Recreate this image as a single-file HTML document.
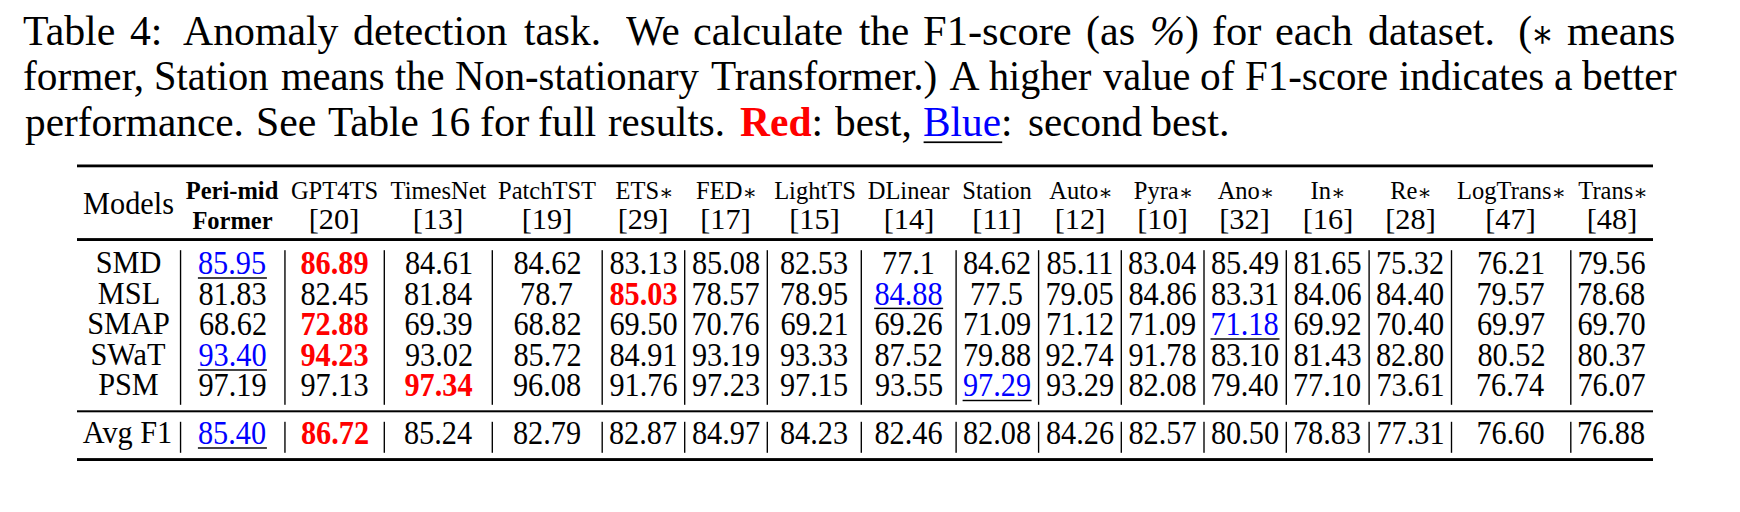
<!DOCTYPE html>
<html><head><meta charset="utf-8"><style>
html,body{margin:0;padding:0;background:#fff;}
body{width:1740px;height:512px;position:relative;overflow:hidden;}
.t{position:absolute;white-space:nowrap;line-height:1;font-family:'Liberation Serif', 'DejaVu Serif', serif;color:#000;}
.ast{font-family:'DejaVu Serif', serif;font-size:0.87em;position:relative;top:0.05em;}
.ast2{font-family:'DejaVu Serif', serif;font-size:0.95em;position:relative;top:0.045em;margin-left:-0.07em;margin-right:0.0em;display:inline-block;transform:scaleX(0.86);}
svg{position:absolute;left:0;top:0;}
</style></head><body>
<div class="t" id="c0_0" style="left:23.00px;top:11.46px;font-size:41.6px;transform:scale(1.0055,1);transform-origin:0 34.84px;">Table</div>
<div class="t" id="c0_1" style="left:130.00px;top:11.46px;font-size:41.6px;transform:scale(1.0034,1);transform-origin:0 34.84px;">4:</div>
<div class="t" id="c0_2" style="left:183.00px;top:11.46px;font-size:41.6px;transform:scale(1.0039,1);transform-origin:0 34.84px;">Anomaly</div>
<div class="t" id="c0_3" style="left:353.00px;top:11.46px;font-size:41.6px;transform:scale(1.0126,1);transform-origin:0 34.84px;">detection</div>
<div class="t" id="c0_4" style="left:524.00px;top:11.46px;font-size:41.6px;transform:scale(0.9947,1);transform-origin:0 34.84px;">task.</div>
<div class="t" id="c0_5" style="left:625.80px;top:11.46px;font-size:41.6px;transform:scale(0.9852,1);transform-origin:0 34.84px;">We</div>
<div class="t" id="c0_6" style="left:693.00px;top:11.46px;font-size:41.6px;transform:scale(1.0159,1);transform-origin:0 34.84px;">calculate</div>
<div class="t" id="c0_7" style="left:858.70px;top:11.46px;font-size:41.6px;transform:scale(0.986,1);transform-origin:0 34.84px;">the</div>
<div class="t" id="c0_8" style="left:923.00px;top:11.46px;font-size:41.6px;transform:scale(1.0217,1);transform-origin:0 34.84px;">F1-score</div>
<div class="t" id="c0_9" style="left:1086.40px;top:11.46px;font-size:41.6px;transform:scale(1.013,1);transform-origin:0 34.84px;">(as</div>
<div class="t" id="c0_10" style="left:1149.60px;top:11.46px;font-size:41.6px;transform:scale(1.0111,1);transform-origin:0 34.84px;"><i>%</i>)</div>
<div class="t" id="c0_11" style="left:1212.30px;top:11.46px;font-size:41.6px;transform:scale(1.0188,1);transform-origin:0 34.84px;">for</div>
<div class="t" id="c0_12" style="left:1275.30px;top:11.46px;font-size:41.6px;transform:scale(1.0187,1);transform-origin:0 34.84px;">each</div>
<div class="t" id="c0_13" style="left:1368.00px;top:11.46px;font-size:41.6px;transform:scale(1.0082,1);transform-origin:0 34.84px;">dataset.</div>
<div class="t" id="c0_14" style="left:1518.20px;top:11.46px;font-size:41.6px;">(<span class="ast2">∗</span></div>
<div class="t" id="c0_15" style="left:1567.20px;top:11.46px;font-size:41.6px;transform:scale(1.0192,1);transform-origin:0 34.84px;">means</div>
<div class="t" id="c1_0" style="left:23.00px;top:56.46px;font-size:41.6px;transform:scale(0.9932,1);transform-origin:0 34.84px;">former,</div>
<div class="t" id="c1_1" style="left:154.00px;top:56.46px;font-size:41.6px;transform:scale(0.9716,1);transform-origin:0 34.84px;">Station</div>
<div class="t" id="c1_2" style="left:280.50px;top:56.46px;font-size:41.6px;transform:scale(0.9752,1);transform-origin:0 34.84px;">means</div>
<div class="t" id="c1_3" style="left:395.30px;top:56.46px;font-size:41.6px;transform:scale(0.976,1);transform-origin:0 34.84px;">the</div>
<div class="t" id="c1_4" style="left:454.70px;top:56.46px;font-size:41.6px;transform:scale(0.9775,1);transform-origin:0 34.84px;">Non-stationary</div>
<div class="t" id="c1_5" style="left:710.50px;top:56.46px;font-size:41.6px;transform:scale(0.9912,1);transform-origin:0 34.84px;">Transformer.)</div>
<div class="t" id="c1_6" style="left:949.60px;top:56.46px;font-size:41.6px;">A</div>
<div class="t" id="c1_7" style="left:989.00px;top:56.46px;font-size:41.6px;transform:scale(0.9642,1);transform-origin:0 34.84px;">higher</div>
<div class="t" id="c1_8" style="left:1103.30px;top:56.46px;font-size:41.6px;transform:scale(0.9697,1);transform-origin:0 34.84px;">value</div>
<div class="t" id="c1_9" style="left:1199.70px;top:56.46px;font-size:41.6px;transform:scale(0.9941,1);transform-origin:0 34.84px;">of</div>
<div class="t" id="c1_10" style="left:1244.60px;top:56.46px;font-size:41.6px;transform:scale(0.9833,1);transform-origin:0 34.84px;">F1-score</div>
<div class="t" id="c1_11" style="left:1399.30px;top:56.46px;font-size:41.6px;transform:scale(0.9822,1);transform-origin:0 34.84px;">indicates</div>
<div class="t" id="c1_12" style="left:1554.00px;top:56.46px;font-size:41.6px;">a</div>
<div class="t" id="c1_13" style="left:1581.70px;top:56.46px;font-size:41.6px;transform:scale(0.9989,1);transform-origin:0 34.84px;">better</div>
<div class="t" id="c2_0" style="left:25.00px;top:102.46px;font-size:41.6px;transform:scale(0.9927,1);transform-origin:0 34.84px;">performance.</div>
<div class="t" id="c2_1" style="left:256.00px;top:102.46px;font-size:41.6px;transform:scale(1.0053,1);transform-origin:0 34.84px;">See</div>
<div class="t" id="c2_2" style="left:327.50px;top:102.46px;font-size:41.6px;transform:scale(0.989,1);transform-origin:0 34.84px;">Table</div>
<div class="t" id="c2_3" style="left:428.60px;top:102.46px;font-size:41.6px;">16</div>
<div class="t" id="c2_4" style="left:479.80px;top:102.46px;font-size:41.6px;transform:scale(1.0149,1);transform-origin:0 34.84px;">for</div>
<div class="t" id="c2_5" style="left:538.10px;top:102.46px;font-size:41.6px;transform:scale(1.0089,1);transform-origin:0 34.84px;">full</div>
<div class="t" id="c2_6" style="left:608.30px;top:102.46px;font-size:41.6px;transform:scale(0.9829,1);transform-origin:0 34.84px;">results.</div>
<div class="t" id="c2_7" style="left:739.60px;top:102.46px;font-size:41.6px;transform:scale(0.9975,1);transform-origin:0 34.84px;"><b style="color:#f00">Red</b>:</div>
<div class="t" id="c2_8" style="left:834.90px;top:102.46px;font-size:41.6px;transform:scale(0.9919,1);transform-origin:0 34.84px;">best,</div>
<div class="t" id="c2_9" style="left:923.30px;top:102.46px;font-size:41.6px;transform:scale(0.993,1);transform-origin:0 34.84px;"><span style="color:#00f">Blue</span>:</div>
<div class="t" id="c2_10" style="left:1027.60px;top:102.46px;font-size:41.6px;transform:scale(0.9877,1);transform-origin:0 34.84px;">second</div>
<div class="t" id="c2_11" style="left:1151.10px;top:102.46px;font-size:41.6px;transform:scale(1.0137,1);transform-origin:0 34.84px;">best.</div>
<div class="t" id="models" style="left:8.50px;top:188.92px;width:240px;text-align:center;font-size:30.3px;transform:scale(1,1.03);transform-origin:50% 25.38px;">Models</div>
<div class="t" id="h0" style="left:112.00px;top:178.78px;width:240px;text-align:center;font-size:24.5px;font-weight:bold;">Peri-mid</div>
<div class="t" id="h1" style="left:214.50px;top:178.78px;width:240px;text-align:center;font-size:24.5px;">GPT4TS</div>
<div class="t" id="h2" style="left:318.50px;top:178.78px;width:240px;text-align:center;font-size:24.5px;">TimesNet</div>
<div class="t" id="h3" style="left:427.00px;top:178.78px;width:240px;text-align:center;font-size:24.5px;">PatchTST</div>
<div class="t" id="h4" style="left:524.50px;top:178.78px;width:240px;text-align:center;font-size:24.5px;">ETS<span class="ast">∗</span></div>
<div class="t" id="h5" style="left:606.50px;top:178.78px;width:240px;text-align:center;font-size:24.5px;">FED<span class="ast">∗</span></div>
<div class="t" id="h6" style="left:695.00px;top:178.78px;width:240px;text-align:center;font-size:24.5px;">LightTS</div>
<div class="t" id="h7" style="left:788.50px;top:178.78px;width:240px;text-align:center;font-size:24.5px;">DLinear</div>
<div class="t" id="h8" style="left:877.00px;top:178.78px;width:240px;text-align:center;font-size:24.5px;">Station</div>
<div class="t" id="h9" style="left:961.00px;top:178.78px;width:240px;text-align:center;font-size:24.5px;">Auto<span class="ast">∗</span></div>
<div class="t" id="h10" style="left:1043.50px;top:178.78px;width:240px;text-align:center;font-size:24.5px;">Pyra<span class="ast">∗</span></div>
<div class="t" id="h11" style="left:1126.00px;top:178.78px;width:240px;text-align:center;font-size:24.5px;">Ano<span class="ast">∗</span></div>
<div class="t" id="h12" style="left:1208.00px;top:178.78px;width:240px;text-align:center;font-size:24.5px;">In<span class="ast">∗</span></div>
<div class="t" id="h13" style="left:1291.00px;top:178.78px;width:240px;text-align:center;font-size:24.5px;">Re<span class="ast">∗</span></div>
<div class="t" id="h14" style="left:1391.50px;top:178.78px;width:240px;text-align:center;font-size:24.5px;">LogTrans<span class="ast">∗</span></div>
<div class="t" id="h15" style="left:1493.00px;top:178.78px;width:240px;text-align:center;font-size:24.5px;">Trans<span class="ast">∗</span></div>
<div class="t" id="r0" style="left:112.50px;top:208.78px;width:240px;text-align:center;font-size:24.5px;font-weight:bold;">Former</div>
<div class="t" id="r1" style="left:214.00px;top:203.92px;width:240px;text-align:center;font-size:30.3px;">[20]</div>
<div class="t" id="r2" style="left:318.00px;top:203.92px;width:240px;text-align:center;font-size:30.3px;">[13]</div>
<div class="t" id="r3" style="left:427.00px;top:203.92px;width:240px;text-align:center;font-size:30.3px;">[19]</div>
<div class="t" id="r4" style="left:523.00px;top:203.92px;width:240px;text-align:center;font-size:30.3px;">[29]</div>
<div class="t" id="r5" style="left:605.50px;top:203.92px;width:240px;text-align:center;font-size:30.3px;">[17]</div>
<div class="t" id="r6" style="left:694.50px;top:203.92px;width:240px;text-align:center;font-size:30.3px;">[15]</div>
<div class="t" id="r7" style="left:789.00px;top:203.92px;width:240px;text-align:center;font-size:30.3px;">[14]</div>
<div class="t" id="r8" style="left:877.00px;top:203.92px;width:240px;text-align:center;font-size:30.3px;">[11]</div>
<div class="t" id="r9" style="left:960.00px;top:203.92px;width:240px;text-align:center;font-size:30.3px;">[12]</div>
<div class="t" id="r10" style="left:1042.50px;top:203.92px;width:240px;text-align:center;font-size:30.3px;">[10]</div>
<div class="t" id="r11" style="left:1124.50px;top:203.92px;width:240px;text-align:center;font-size:30.3px;">[32]</div>
<div class="t" id="r12" style="left:1208.00px;top:203.92px;width:240px;text-align:center;font-size:30.3px;">[16]</div>
<div class="t" id="r13" style="left:1290.50px;top:203.92px;width:240px;text-align:center;font-size:30.3px;">[28]</div>
<div class="t" id="r14" style="left:1390.50px;top:203.92px;width:240px;text-align:center;font-size:30.3px;">[47]</div>
<div class="t" id="r15" style="left:1492.00px;top:203.92px;width:240px;text-align:center;font-size:30.3px;">[48]</div>
<div class="t" id="l0" style="left:8.50px;top:247.92px;width:240px;text-align:center;font-size:30.3px;transform:scale(1,1.075);transform-origin:50% 25.38px;">SMD</div>
<div class="t" id="d0_0" style="left:112.00px;top:248.92px;width:240px;text-align:center;font-size:30.3px;color:#00f;transform:scale(1,1.145);transform-origin:50% 25.38px;">85.95</div>
<div class="t" id="d0_1" style="left:214.50px;top:248.92px;width:240px;text-align:center;font-size:30.3px;color:#f00;font-weight:bold;transform:scale(1,1.145);transform-origin:50% 25.38px;">86.89</div>
<div class="t" id="d0_2" style="left:319.00px;top:248.92px;width:240px;text-align:center;font-size:30.3px;transform:scale(1,1.145);transform-origin:50% 25.38px;">84.61</div>
<div class="t" id="d0_3" style="left:427.50px;top:248.92px;width:240px;text-align:center;font-size:30.3px;transform:scale(1,1.145);transform-origin:50% 25.38px;">84.62</div>
<div class="t" id="d0_4" style="left:523.50px;top:248.92px;width:240px;text-align:center;font-size:30.3px;transform:scale(1,1.145);transform-origin:50% 25.38px;">83.13</div>
<div class="t" id="d0_5" style="left:606.00px;top:248.92px;width:240px;text-align:center;font-size:30.3px;transform:scale(1,1.145);transform-origin:50% 25.38px;">85.08</div>
<div class="t" id="d0_6" style="left:694.00px;top:248.92px;width:240px;text-align:center;font-size:30.3px;transform:scale(1,1.145);transform-origin:50% 25.38px;">82.53</div>
<div class="t" id="d0_7" style="left:788.50px;top:248.92px;width:240px;text-align:center;font-size:30.3px;transform:scale(1,1.145);transform-origin:50% 25.38px;">77.1</div>
<div class="t" id="d0_8" style="left:877.00px;top:248.92px;width:240px;text-align:center;font-size:30.3px;transform:scale(1,1.145);transform-origin:50% 25.38px;">84.62</div>
<div class="t" id="d0_9" style="left:960.00px;top:248.92px;width:240px;text-align:center;font-size:30.3px;transform:scale(1,1.145);transform-origin:50% 25.38px;">85.11</div>
<div class="t" id="d0_10" style="left:1042.00px;top:248.92px;width:240px;text-align:center;font-size:30.3px;transform:scale(1,1.145);transform-origin:50% 25.38px;">83.04</div>
<div class="t" id="d0_11" style="left:1125.00px;top:248.92px;width:240px;text-align:center;font-size:30.3px;transform:scale(1,1.145);transform-origin:50% 25.38px;">85.49</div>
<div class="t" id="d0_12" style="left:1207.50px;top:248.92px;width:240px;text-align:center;font-size:30.3px;transform:scale(1,1.145);transform-origin:50% 25.38px;">81.65</div>
<div class="t" id="d0_13" style="left:1290.00px;top:248.92px;width:240px;text-align:center;font-size:30.3px;transform:scale(1,1.145);transform-origin:50% 25.38px;">75.32</div>
<div class="t" id="d0_14" style="left:1391.00px;top:248.92px;width:240px;text-align:center;font-size:30.3px;transform:scale(1,1.145);transform-origin:50% 25.38px;">76.21</div>
<div class="t" id="d0_15" style="left:1491.50px;top:248.92px;width:240px;text-align:center;font-size:30.3px;transform:scale(1,1.145);transform-origin:50% 25.38px;">79.56</div>
<div class="t" id="l1" style="left:9.00px;top:278.92px;width:240px;text-align:center;font-size:30.3px;transform:scale(1,1.075);transform-origin:50% 25.38px;">MSL</div>
<div class="t" id="d1_0" style="left:112.50px;top:279.92px;width:240px;text-align:center;font-size:30.3px;transform:scale(1,1.145);transform-origin:50% 25.38px;">81.83</div>
<div class="t" id="d1_1" style="left:214.50px;top:279.92px;width:240px;text-align:center;font-size:30.3px;transform:scale(1,1.145);transform-origin:50% 25.38px;">82.45</div>
<div class="t" id="d1_2" style="left:318.00px;top:279.92px;width:240px;text-align:center;font-size:30.3px;transform:scale(1,1.145);transform-origin:50% 25.38px;">81.84</div>
<div class="t" id="d1_3" style="left:426.50px;top:279.92px;width:240px;text-align:center;font-size:30.3px;transform:scale(1,1.145);transform-origin:50% 25.38px;">78.7</div>
<div class="t" id="d1_4" style="left:523.50px;top:279.92px;width:240px;text-align:center;font-size:30.3px;color:#f00;font-weight:bold;transform:scale(1,1.145);transform-origin:50% 25.38px;">85.03</div>
<div class="t" id="d1_5" style="left:605.50px;top:279.92px;width:240px;text-align:center;font-size:30.3px;transform:scale(1,1.145);transform-origin:50% 25.38px;">78.57</div>
<div class="t" id="d1_6" style="left:694.00px;top:279.92px;width:240px;text-align:center;font-size:30.3px;transform:scale(1,1.145);transform-origin:50% 25.38px;">78.95</div>
<div class="t" id="d1_7" style="left:788.50px;top:279.92px;width:240px;text-align:center;font-size:30.3px;color:#00f;transform:scale(1,1.145);transform-origin:50% 25.38px;">84.88</div>
<div class="t" id="d1_8" style="left:876.50px;top:279.92px;width:240px;text-align:center;font-size:30.3px;transform:scale(1,1.145);transform-origin:50% 25.38px;">77.5</div>
<div class="t" id="d1_9" style="left:959.50px;top:279.92px;width:240px;text-align:center;font-size:30.3px;transform:scale(1,1.145);transform-origin:50% 25.38px;">79.05</div>
<div class="t" id="d1_10" style="left:1042.50px;top:279.92px;width:240px;text-align:center;font-size:30.3px;transform:scale(1,1.145);transform-origin:50% 25.38px;">84.86</div>
<div class="t" id="d1_11" style="left:1125.00px;top:279.92px;width:240px;text-align:center;font-size:30.3px;transform:scale(1,1.145);transform-origin:50% 25.38px;">83.31</div>
<div class="t" id="d1_12" style="left:1207.50px;top:279.92px;width:240px;text-align:center;font-size:30.3px;transform:scale(1,1.145);transform-origin:50% 25.38px;">84.06</div>
<div class="t" id="d1_13" style="left:1290.00px;top:279.92px;width:240px;text-align:center;font-size:30.3px;transform:scale(1,1.145);transform-origin:50% 25.38px;">84.40</div>
<div class="t" id="d1_14" style="left:1390.50px;top:279.92px;width:240px;text-align:center;font-size:30.3px;transform:scale(1,1.145);transform-origin:50% 25.38px;">79.57</div>
<div class="t" id="d1_15" style="left:1491.00px;top:279.92px;width:240px;text-align:center;font-size:30.3px;transform:scale(1,1.145);transform-origin:50% 25.38px;">78.68</div>
<div class="t" id="l2" style="left:8.50px;top:308.92px;width:240px;text-align:center;font-size:30.3px;transform:scale(1,1.075);transform-origin:50% 25.38px;">SMAP</div>
<div class="t" id="d2_0" style="left:113.00px;top:309.92px;width:240px;text-align:center;font-size:30.3px;transform:scale(1,1.145);transform-origin:50% 25.38px;">68.62</div>
<div class="t" id="d2_1" style="left:214.50px;top:309.92px;width:240px;text-align:center;font-size:30.3px;color:#f00;font-weight:bold;transform:scale(1,1.145);transform-origin:50% 25.38px;">72.88</div>
<div class="t" id="d2_2" style="left:318.50px;top:309.92px;width:240px;text-align:center;font-size:30.3px;transform:scale(1,1.145);transform-origin:50% 25.38px;">69.39</div>
<div class="t" id="d2_3" style="left:427.50px;top:309.92px;width:240px;text-align:center;font-size:30.3px;transform:scale(1,1.145);transform-origin:50% 25.38px;">68.82</div>
<div class="t" id="d2_4" style="left:523.50px;top:309.92px;width:240px;text-align:center;font-size:30.3px;transform:scale(1,1.145);transform-origin:50% 25.38px;">69.50</div>
<div class="t" id="d2_5" style="left:605.50px;top:309.92px;width:240px;text-align:center;font-size:30.3px;transform:scale(1,1.145);transform-origin:50% 25.38px;">70.76</div>
<div class="t" id="d2_6" style="left:694.50px;top:309.92px;width:240px;text-align:center;font-size:30.3px;transform:scale(1,1.145);transform-origin:50% 25.38px;">69.21</div>
<div class="t" id="d2_7" style="left:788.50px;top:309.92px;width:240px;text-align:center;font-size:30.3px;transform:scale(1,1.145);transform-origin:50% 25.38px;">69.26</div>
<div class="t" id="d2_8" style="left:877.00px;top:309.92px;width:240px;text-align:center;font-size:30.3px;transform:scale(1,1.145);transform-origin:50% 25.38px;">71.09</div>
<div class="t" id="d2_9" style="left:960.00px;top:309.92px;width:240px;text-align:center;font-size:30.3px;transform:scale(1,1.145);transform-origin:50% 25.38px;">71.12</div>
<div class="t" id="d2_10" style="left:1042.00px;top:309.92px;width:240px;text-align:center;font-size:30.3px;transform:scale(1,1.145);transform-origin:50% 25.38px;">71.09</div>
<div class="t" id="d2_11" style="left:1124.50px;top:309.92px;width:240px;text-align:center;font-size:30.3px;color:#00f;transform:scale(1,1.145);transform-origin:50% 25.38px;">71.18</div>
<div class="t" id="d2_12" style="left:1207.50px;top:309.92px;width:240px;text-align:center;font-size:30.3px;transform:scale(1,1.145);transform-origin:50% 25.38px;">69.92</div>
<div class="t" id="d2_13" style="left:1290.00px;top:309.92px;width:240px;text-align:center;font-size:30.3px;transform:scale(1,1.145);transform-origin:50% 25.38px;">70.40</div>
<div class="t" id="d2_14" style="left:1391.00px;top:309.92px;width:240px;text-align:center;font-size:30.3px;transform:scale(1,1.145);transform-origin:50% 25.38px;">69.97</div>
<div class="t" id="d2_15" style="left:1491.50px;top:309.92px;width:240px;text-align:center;font-size:30.3px;transform:scale(1,1.145);transform-origin:50% 25.38px;">69.70</div>
<div class="t" id="l3" style="left:8.00px;top:339.92px;width:240px;text-align:center;font-size:30.3px;transform:scale(1,1.075);transform-origin:50% 25.38px;">SWaT</div>
<div class="t" id="d3_0" style="left:112.50px;top:340.92px;width:240px;text-align:center;font-size:30.3px;color:#00f;transform:scale(1,1.145);transform-origin:50% 25.38px;">93.40</div>
<div class="t" id="d3_1" style="left:214.50px;top:340.92px;width:240px;text-align:center;font-size:30.3px;color:#f00;font-weight:bold;transform:scale(1,1.145);transform-origin:50% 25.38px;">94.23</div>
<div class="t" id="d3_2" style="left:319.00px;top:340.92px;width:240px;text-align:center;font-size:30.3px;transform:scale(1,1.145);transform-origin:50% 25.38px;">93.02</div>
<div class="t" id="d3_3" style="left:427.50px;top:340.92px;width:240px;text-align:center;font-size:30.3px;transform:scale(1,1.145);transform-origin:50% 25.38px;">85.72</div>
<div class="t" id="d3_4" style="left:523.50px;top:340.92px;width:240px;text-align:center;font-size:30.3px;transform:scale(1,1.145);transform-origin:50% 25.38px;">84.91</div>
<div class="t" id="d3_5" style="left:606.00px;top:340.92px;width:240px;text-align:center;font-size:30.3px;transform:scale(1,1.145);transform-origin:50% 25.38px;">93.19</div>
<div class="t" id="d3_6" style="left:694.00px;top:340.92px;width:240px;text-align:center;font-size:30.3px;transform:scale(1,1.145);transform-origin:50% 25.38px;">93.33</div>
<div class="t" id="d3_7" style="left:788.50px;top:340.92px;width:240px;text-align:center;font-size:30.3px;transform:scale(1,1.145);transform-origin:50% 25.38px;">87.52</div>
<div class="t" id="d3_8" style="left:877.00px;top:340.92px;width:240px;text-align:center;font-size:30.3px;transform:scale(1,1.145);transform-origin:50% 25.38px;">79.88</div>
<div class="t" id="d3_9" style="left:959.50px;top:340.92px;width:240px;text-align:center;font-size:30.3px;transform:scale(1,1.145);transform-origin:50% 25.38px;">92.74</div>
<div class="t" id="d3_10" style="left:1042.50px;top:340.92px;width:240px;text-align:center;font-size:30.3px;transform:scale(1,1.145);transform-origin:50% 25.38px;">91.78</div>
<div class="t" id="d3_11" style="left:1125.00px;top:340.92px;width:240px;text-align:center;font-size:30.3px;transform:scale(1,1.145);transform-origin:50% 25.38px;">83.10</div>
<div class="t" id="d3_12" style="left:1207.50px;top:340.92px;width:240px;text-align:center;font-size:30.3px;transform:scale(1,1.145);transform-origin:50% 25.38px;">81.43</div>
<div class="t" id="d3_13" style="left:1290.00px;top:340.92px;width:240px;text-align:center;font-size:30.3px;transform:scale(1,1.145);transform-origin:50% 25.38px;">82.80</div>
<div class="t" id="d3_14" style="left:1391.50px;top:340.92px;width:240px;text-align:center;font-size:30.3px;transform:scale(1,1.145);transform-origin:50% 25.38px;">80.52</div>
<div class="t" id="d3_15" style="left:1491.50px;top:340.92px;width:240px;text-align:center;font-size:30.3px;transform:scale(1,1.145);transform-origin:50% 25.38px;">80.37</div>
<div class="t" id="l4" style="left:8.50px;top:369.92px;width:240px;text-align:center;font-size:30.3px;transform:scale(1,1.075);transform-origin:50% 25.38px;">PSM</div>
<div class="t" id="d4_0" style="left:112.50px;top:370.92px;width:240px;text-align:center;font-size:30.3px;transform:scale(1,1.145);transform-origin:50% 25.38px;">97.19</div>
<div class="t" id="d4_1" style="left:214.50px;top:370.92px;width:240px;text-align:center;font-size:30.3px;transform:scale(1,1.145);transform-origin:50% 25.38px;">97.13</div>
<div class="t" id="d4_2" style="left:318.50px;top:370.92px;width:240px;text-align:center;font-size:30.3px;color:#f00;font-weight:bold;transform:scale(1,1.145);transform-origin:50% 25.38px;">97.34</div>
<div class="t" id="d4_3" style="left:427.00px;top:370.92px;width:240px;text-align:center;font-size:30.3px;transform:scale(1,1.145);transform-origin:50% 25.38px;">96.08</div>
<div class="t" id="d4_4" style="left:523.50px;top:370.92px;width:240px;text-align:center;font-size:30.3px;transform:scale(1,1.145);transform-origin:50% 25.38px;">91.76</div>
<div class="t" id="d4_5" style="left:606.00px;top:370.92px;width:240px;text-align:center;font-size:30.3px;transform:scale(1,1.145);transform-origin:50% 25.38px;">97.23</div>
<div class="t" id="d4_6" style="left:694.00px;top:370.92px;width:240px;text-align:center;font-size:30.3px;transform:scale(1,1.145);transform-origin:50% 25.38px;">97.15</div>
<div class="t" id="d4_7" style="left:789.00px;top:370.92px;width:240px;text-align:center;font-size:30.3px;transform:scale(1,1.145);transform-origin:50% 25.38px;">93.55</div>
<div class="t" id="d4_8" style="left:877.00px;top:370.92px;width:240px;text-align:center;font-size:30.3px;color:#00f;transform:scale(1,1.145);transform-origin:50% 25.38px;">97.29</div>
<div class="t" id="d4_9" style="left:960.00px;top:370.92px;width:240px;text-align:center;font-size:30.3px;transform:scale(1,1.145);transform-origin:50% 25.38px;">93.29</div>
<div class="t" id="d4_10" style="left:1042.50px;top:370.92px;width:240px;text-align:center;font-size:30.3px;transform:scale(1,1.145);transform-origin:50% 25.38px;">82.08</div>
<div class="t" id="d4_11" style="left:1124.50px;top:370.92px;width:240px;text-align:center;font-size:30.3px;transform:scale(1,1.145);transform-origin:50% 25.38px;">79.40</div>
<div class="t" id="d4_12" style="left:1207.00px;top:370.92px;width:240px;text-align:center;font-size:30.3px;transform:scale(1,1.145);transform-origin:50% 25.38px;">77.10</div>
<div class="t" id="d4_13" style="left:1290.50px;top:370.92px;width:240px;text-align:center;font-size:30.3px;transform:scale(1,1.145);transform-origin:50% 25.38px;">73.61</div>
<div class="t" id="d4_14" style="left:1390.00px;top:370.92px;width:240px;text-align:center;font-size:30.3px;transform:scale(1,1.145);transform-origin:50% 25.38px;">76.74</div>
<div class="t" id="d4_15" style="left:1491.50px;top:370.92px;width:240px;text-align:center;font-size:30.3px;transform:scale(1,1.145);transform-origin:50% 25.38px;">76.07</div>
<div class="t" id="lavg" style="left:7.50px;top:417.92px;width:240px;text-align:center;font-size:30.3px;transform:scale(1,1.075);transform-origin:50% 25.38px;">Avg F1</div>
<div class="t" id="a0" style="left:112.00px;top:418.92px;width:240px;text-align:center;font-size:30.3px;color:#00f;transform:scale(1,1.145);transform-origin:50% 25.38px;">85.40</div>
<div class="t" id="a1" style="left:215.00px;top:418.92px;width:240px;text-align:center;font-size:30.3px;color:#f00;font-weight:bold;transform:scale(1,1.145);transform-origin:50% 25.38px;">86.72</div>
<div class="t" id="a2" style="left:318.00px;top:418.92px;width:240px;text-align:center;font-size:30.3px;transform:scale(1,1.145);transform-origin:50% 25.38px;">85.24</div>
<div class="t" id="a3" style="left:427.00px;top:418.92px;width:240px;text-align:center;font-size:30.3px;transform:scale(1,1.145);transform-origin:50% 25.38px;">82.79</div>
<div class="t" id="a4" style="left:523.00px;top:418.92px;width:240px;text-align:center;font-size:30.3px;transform:scale(1,1.145);transform-origin:50% 25.38px;">82.87</div>
<div class="t" id="a5" style="left:606.00px;top:418.92px;width:240px;text-align:center;font-size:30.3px;transform:scale(1,1.145);transform-origin:50% 25.38px;">84.97</div>
<div class="t" id="a6" style="left:694.00px;top:418.92px;width:240px;text-align:center;font-size:30.3px;transform:scale(1,1.145);transform-origin:50% 25.38px;">84.23</div>
<div class="t" id="a7" style="left:788.50px;top:418.92px;width:240px;text-align:center;font-size:30.3px;transform:scale(1,1.145);transform-origin:50% 25.38px;">82.46</div>
<div class="t" id="a8" style="left:877.00px;top:418.92px;width:240px;text-align:center;font-size:30.3px;transform:scale(1,1.145);transform-origin:50% 25.38px;">82.08</div>
<div class="t" id="a9" style="left:960.00px;top:418.92px;width:240px;text-align:center;font-size:30.3px;transform:scale(1,1.145);transform-origin:50% 25.38px;">84.26</div>
<div class="t" id="a10" style="left:1042.50px;top:418.92px;width:240px;text-align:center;font-size:30.3px;transform:scale(1,1.145);transform-origin:50% 25.38px;">82.57</div>
<div class="t" id="a11" style="left:1125.00px;top:418.92px;width:240px;text-align:center;font-size:30.3px;transform:scale(1,1.145);transform-origin:50% 25.38px;">80.50</div>
<div class="t" id="a12" style="left:1207.00px;top:418.92px;width:240px;text-align:center;font-size:30.3px;transform:scale(1,1.145);transform-origin:50% 25.38px;">78.83</div>
<div class="t" id="a13" style="left:1290.50px;top:418.92px;width:240px;text-align:center;font-size:30.3px;transform:scale(1,1.145);transform-origin:50% 25.38px;">77.31</div>
<div class="t" id="a14" style="left:1390.50px;top:418.92px;width:240px;text-align:center;font-size:30.3px;transform:scale(1,1.145);transform-origin:50% 25.38px;">76.60</div>
<div class="t" id="a15" style="left:1491.00px;top:418.92px;width:240px;text-align:center;font-size:30.3px;transform:scale(1,1.145);transform-origin:50% 25.38px;">76.88</div>
<svg width="1740" height="512" viewBox="0 0 1740 512"><rect x="77.00" y="164.50" width="1576.00" height="2.80" fill="#000"/><rect x="77.00" y="238.10" width="1576.00" height="2.90" fill="#000"/><rect x="77.00" y="410.30" width="1576.00" height="2.00" fill="#000"/><rect x="77.00" y="458.10" width="1576.00" height="2.90" fill="#000"/><rect x="179.87" y="250.20" width="1.36" height="154.60" fill="#000"/><rect x="179.87" y="421.80" width="1.36" height="31.00" fill="#000"/><rect x="284.27" y="250.20" width="1.36" height="154.60" fill="#000"/><rect x="284.27" y="421.80" width="1.36" height="31.00" fill="#000"/><rect x="383.62" y="250.20" width="1.36" height="154.60" fill="#000"/><rect x="383.62" y="421.80" width="1.36" height="31.00" fill="#000"/><rect x="491.62" y="250.20" width="1.36" height="154.60" fill="#000"/><rect x="491.62" y="421.80" width="1.36" height="31.00" fill="#000"/><rect x="601.52" y="250.20" width="1.36" height="154.60" fill="#000"/><rect x="601.52" y="421.80" width="1.36" height="31.00" fill="#000"/><rect x="684.02" y="250.20" width="1.36" height="154.60" fill="#000"/><rect x="684.02" y="421.80" width="1.36" height="31.00" fill="#000"/><rect x="766.62" y="250.20" width="1.36" height="154.60" fill="#000"/><rect x="766.62" y="421.80" width="1.36" height="31.00" fill="#000"/><rect x="860.62" y="250.20" width="1.36" height="154.60" fill="#000"/><rect x="860.62" y="421.80" width="1.36" height="31.00" fill="#000"/><rect x="955.42" y="250.20" width="1.36" height="154.60" fill="#000"/><rect x="955.42" y="421.80" width="1.36" height="31.00" fill="#000"/><rect x="1037.92" y="250.20" width="1.36" height="154.60" fill="#000"/><rect x="1037.92" y="421.80" width="1.36" height="31.00" fill="#000"/><rect x="1120.62" y="250.20" width="1.36" height="154.60" fill="#000"/><rect x="1120.62" y="421.80" width="1.36" height="31.00" fill="#000"/><rect x="1203.32" y="250.20" width="1.36" height="154.60" fill="#000"/><rect x="1203.32" y="421.80" width="1.36" height="31.00" fill="#000"/><rect x="1285.62" y="250.20" width="1.36" height="154.60" fill="#000"/><rect x="1285.62" y="421.80" width="1.36" height="31.00" fill="#000"/><rect x="1368.42" y="250.20" width="1.36" height="154.60" fill="#000"/><rect x="1368.42" y="421.80" width="1.36" height="31.00" fill="#000"/><rect x="1450.82" y="250.20" width="1.36" height="154.60" fill="#000"/><rect x="1450.82" y="421.80" width="1.36" height="31.00" fill="#000"/><rect x="1570.12" y="250.20" width="1.36" height="154.60" fill="#000"/><rect x="1570.12" y="421.80" width="1.36" height="31.00" fill="#000"/><rect x="197.90" y="277.27" width="69.00" height="1.45" fill="#000"/><rect x="874.15" y="307.67" width="69.00" height="1.45" fill="#000"/><rect x="1210.50" y="338.27" width="69.00" height="1.45" fill="#000"/><rect x="197.90" y="369.27" width="69.00" height="1.45" fill="#000"/><rect x="962.60" y="399.77" width="69.00" height="1.45" fill="#000"/><rect x="197.90" y="447.27" width="69.00" height="1.45" fill="#000"/><rect x="923.60" y="141.40" width="78.60" height="1.70" fill="#000"/></svg>
</body></html>
